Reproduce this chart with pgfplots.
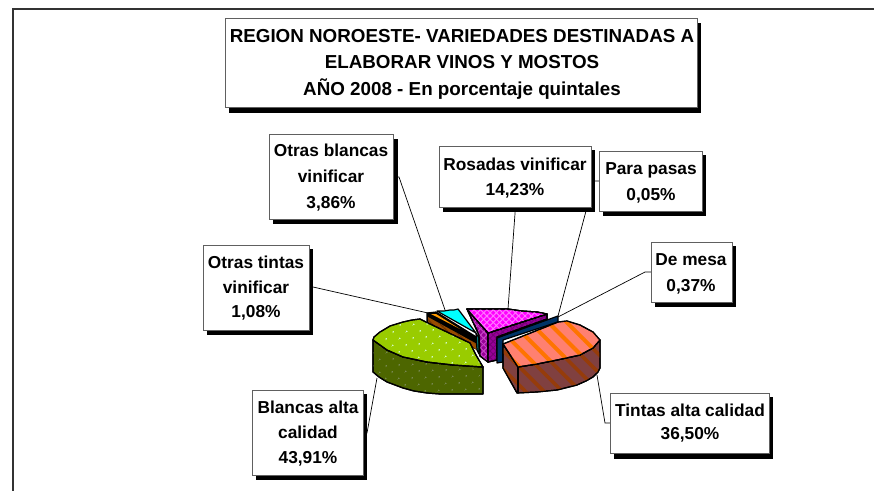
\documentclass[border=0pt]{standalone}
\usepackage{pgfplots}
\pgfplotsset{compat=1.18}
\usepackage{fontspec}
\setmainfont{Liberation Sans}
\usetikzlibrary{patterns.meta}
\definecolor{boxg}{HTML}{606060}
\newcommand{\lbox}[8]{%
 \fill[black] (axis cs:#5,#6) rectangle (axis cs:#7,#8);
 \draw[boxg,fill=white,line width=.9bp] (axis cs:#1,#2) rectangle (axis cs:#3,#4);}
\newcommand{\tl}[3]{\node[anchor=base,inner sep=0pt,font=\fontsize{17.3bp}{19bp}\selectfont\bfseries] at (axis cs:#1,#2) {#3};}
\newcommand{\ttl}[3]{\node[anchor=base,inner sep=0pt,font=\fontsize{18.8bp}{20bp}\selectfont\bfseries] at (axis cs:#1,#2) {#3};}
\tikzset{
 ol/.style={draw=black,line width=1.2bp,line join=round},
}
\begin{document}
\begin{tikzpicture}
\begin{axis}[
  width=874bp,height=491bp,scale only axis,
  xmin=0,xmax=874,ymin=0,ymax=491,y dir=reverse,
  hide axis,clip=true,no markers,
]
\fill[white] (axis cs:0,0) rectangle (axis cs:874,491);
% frame
\addplot[draw=black!80,line width=2bp] coordinates {(13,491)(13,9)(874,9)};
% leader lines
\addplot[black,line width=.7bp] coordinates {(392,177)(399,177)(445,310)};
\addplot[black,line width=.7bp] coordinates {(516,200)(508,309)};
\addplot[black,line width=.7bp] coordinates {(599,181)(594,181)(558,316)};
\addplot[black,line width=.7bp] coordinates {(651,272)(645,272)(558,317)};
\addplot[black,line width=.7bp] coordinates {(309,287)(313,287)(428,313)};
\addplot[black,line width=.7bp] coordinates {(363,433)(367,433)(377,378)};
\addplot[black,line width=.7bp] coordinates {(610,423)(605,423)(597,375)};
% Otras tintas 1.08
\addplot[ol,fill=black] coordinates {(427,313)(436,312)(478,338)(478,350)(427,321)} --cycle;
\addplot[draw=none,fill={rgb,255:red,153;green,76;blue,0},postaction={pattern={Lines[angle=-45,distance=6bp,line width=1.5bp]},pattern color={rgb,255:red,110;green,50;blue,0}}] coordinates {(428,317)(477,344)(477,350)(470,345)(428,322)} --cycle;
\addplot[draw=none,fill={rgb,255:red,255;green,153;blue,0}] coordinates {(431,314)(436,314)(460,329)} --cycle;
% Otras blancas 3.86
\addplot[ol,fill={rgb,255:red,0;green,128;blue,128}] coordinates {(476,333)(479,338)(479,354)(477,350)} --cycle;
\addplot[ol,fill={rgb,255:red,0;green,255;blue,255}] coordinates {(437,311)(444,311)(450,310)(454,310)(458,309)(476,333)} --cycle;
% Rosadas 14.23
\addplot[ol,fill={rgb,255:red,153;green,0;blue,153},postaction={pattern={Lines[angle=45,distance=4.5bp,line width=1bp]},pattern color={rgb,255:red,200;green,70;blue,200}},postaction={pattern={Lines[angle=-45,distance=4.5bp,line width=1bp]},pattern color={rgb,255:red,200;green,70;blue,200}}] coordinates {(467,309)(488,333)(488,362)(480,356)(479,335)} --cycle;
\addplot[ol,fill={rgb,255:red,153;green,0;blue,153},postaction={pattern={Lines[angle=45,distance=4.5bp,line width=1bp]},pattern color={rgb,255:red,120;green,0;blue,120}},postaction={pattern={Lines[angle=-45,distance=4.5bp,line width=1bp]},pattern color={rgb,255:red,120;green,0;blue,120}}] coordinates {(488,333)(547,314)(547,319)(497,337)(497,360)(488,362)} --cycle;
\addplot[ol,fill={rgb,255:red,255;green,0;blue,255},postaction={pattern={Lines[angle=45,distance=4.5bp,line width=1bp]},pattern color={rgb,255:red,255;green,120;blue,255}},postaction={pattern={Lines[angle=-45,distance=4.5bp,line width=1bp]},pattern color={rgb,255:red,255;green,120;blue,255}}] coordinates {(467,309)(508,309)(522,311)(537,312)(547,314)(488,333)} --cycle;
% De mesa / para pasas
\addplot[ol,fill={rgb,255:red,0;green,51;blue,102}] coordinates {(497,338)(558,316)(558,322)(503,340)(503,362)(497,363)} --cycle;
% Blancas alta calidad 43.91
\addplot[ol,fill={rgb,255:red,77;green,102;blue,0},postaction={pattern={Dots[angle=45,distance=9.5bp,radius=.9bp]},pattern color={rgb,255:red,125;green,140;blue,90}}] coordinates {(373,340)(373,372)(379,377)(387,382)(403,388)(414,391)(427,393)(440,394)(453,394)(483,394)(483,367)(453,365)(427,362)(403,357)(387,350)} --cycle;
\addplot[ol,fill={rgb,255:red,153;green,204;blue,0},postaction={pattern={Dots[angle=45,distance=9.5bp,radius=.9bp]},pattern color=white!85!green}] coordinates {(373,340)(374,337)(380,332)(390,326)(403,322)(412,320)(420,319)(428,323)(470,343)(476,355)(483,367)(453,365)(427,362)(403,357)(387,350)} --cycle;
% Tintas alta calidad 36.50
\addplot[ol,fill={rgb,255:red,128;green,64;blue,64},postaction={pattern={Lines[angle=-45,distance=13bp,line width=3.6bp]},pattern color={rgb,255:red,150;green,60;blue,10}}] coordinates {(503,344)(503,368)(517,393)(537,392)(557,390)(577,385)(586,381)(593,377)(598,372)(600,368)(600,340)(593,348)(580,355)(557,360)(537,364)(518,367)} --cycle;
\addplot[ol] coordinates {(518,367)(518,393)};
\addplot[ol,fill={rgb,255:red,255;green,128;blue,112},postaction={pattern={Lines[angle=-45,distance=13bp,line width=4bp]},pattern color={rgb,255:red,255;green,116;blue,0}}] coordinates {(503,344)(558,322)(567,321)(580,325)(593,332)(600,340)(593,348)(580,355)(557,360)(537,364)(518,367)} --cycle;
% boxes
\lbox{225}{18}{697}{107}{229}{23}{701}{113}
\lbox{269}{134}{393}{219}{273}{139}{398}{224}
\lbox{439}{146}{591}{207}{443}{150}{595}{212}
\lbox{599}{151}{702}{211}{603}{155}{706}{216}
\lbox{651}{242}{732}{302}{655}{246}{736}{307}
\lbox{203}{245}{309}{330}{207}{249}{313}{335}
\lbox{252}{390}{363}{475}{256}{394}{367}{480}
\lbox{610}{393}{769}{453}{614}{397}{773}{459}
% texts
\ttl{462}{43}{REGION NOROESTE- VARIEDADES DESTINADAS A}
\ttl{462}{69}{ELABORAR VINOS Y MOSTOS}
\ttl{462}{95}{AÑO 2008 - En porcentaje quintales}
\tl{331}{156}{Otras blancas}
\tl{331}{182}{vinificar}
\tl{331}{208}{3,86\%}
\tl{515}{170}{Rosadas vinificar}
\tl{515}{195}{14,23\%}
\tl{651}{174}{Para pasas}
\tl{651}{200}{0,05\%}
\tl{691}{265}{De mesa}
\tl{691}{291}{0,37\%}
\tl{256}{268}{Otras tintas}
\tl{256}{293}{vinificar}
\tl{256}{317}{1,08\%}
\tl{308}{413}{Blancas alta}
\tl{308}{438}{calidad}
\tl{308}{463}{43,91\%}
\tl{690}{416}{Tintas alta calidad}
\tl{690}{439}{36,50\%}
\end{axis}
\end{tikzpicture}
\end{document}
